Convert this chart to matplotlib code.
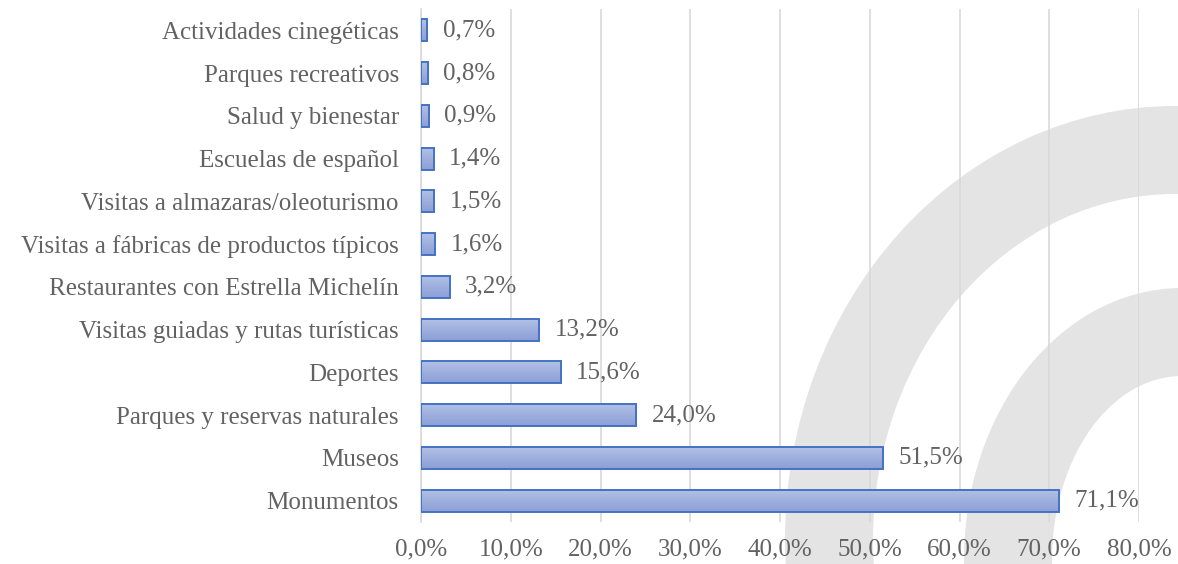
import numpy as np
import matplotlib
matplotlib.use("Agg")
import matplotlib.pyplot as plt
from matplotlib.patches import Annulus
from matplotlib.transforms import IdentityTransform
from matplotlib.colors import LinearSegmentedColormap

categories = [
    "Monumentos",
    "Museos",
    "Parques y reservas naturales",
    "Deportes",
    "Visitas guiadas y rutas turísticas",
    "Restaurantes con Estrella Michelín",
    "Visitas a fábricas de productos típicos",
    "Visitas a almazaras/oleoturismo",
    "Escuelas de español",
    "Salud y bienestar",
    "Parques recreativos",
    "Actividades cinegéticas",
]
values = [71.1, 51.5, 24.0, 15.6, 13.2, 3.2, 1.6, 1.5, 1.4, 0.9, 0.8, 0.7]
xticks = [0, 10, 20, 30, 40, 50, 60, 70, 80]

txt = "#626262"
grid_c = "#d9d9d9"
edge_c = "#4472c4"
fs = 18

plt.rcParams["font.family"] = ["Liberation Serif", "DejaVu Serif"]

fig = plt.figure(figsize=(11.78, 5.64), dpi=100)
W, H = 1178, 564

# background watermark (grey arcs), drawn below the axes
wm = "#e4e4e4"
big = Annulus((1175, H - 540), r=(390, 434), width=88, transform=IdentityTransform(),
              facecolor=wm, edgecolor="none", zorder=-5)
small = Annulus((1182, H - 560), r=(218, 272), width=88, transform=IdentityTransform(),
                facecolor=wm, edgecolor="none", zorder=-5)
fig.patches.extend([big, small])

ax = fig.add_axes([421 / W, (H - 522) / H, (1139 - 421) / W, (522 - 9) / H])
ax.patch.set_alpha(0)
ax.set_zorder(1)

y = np.arange(len(categories))
bh = 0.52
bars = ax.barh(y, values, height=bh, facecolor="none", edgecolor=edge_c, linewidth=1.4, zorder=3)

cmap = LinearSegmentedColormap.from_list("g", ["#8c9fd6", "#b2c1e6"])
grad = np.linspace(0, 1, 64).reshape(-1, 1)
for b in bars:
    x0, y0 = b.get_x(), b.get_y()
    im = ax.imshow(grad, cmap=cmap, aspect="auto", origin="lower",
                   extent=(x0, x0 + b.get_width(), y0, y0 + b.get_height()), zorder=2)
    im.set_clip_path(b)

for yi, v in zip(y, values):
    ax.annotate(f"{v:.1f}".replace(".", ",") + "%", (v, yi), xytext=(11, 0),
                textcoords="offset points", va="center", ha="left",
                fontsize=fs, color=txt, zorder=4)

ax.set_xlim(0, 80)
ax.set_ylim(-0.5, len(categories) - 0.5)
ax.set_xticks(xticks)
ax.set_xticklabels([f"{t:.1f}".replace(".", ",") + "%" for t in xticks])
ax.set_yticks(y)
ax.set_yticklabels(categories)
ax.tick_params(axis="both", length=0, labelsize=fs, labelcolor=txt)
ax.tick_params(axis="x", pad=12)
ax.tick_params(axis="y", pad=16)
ax.grid(axis="x", color=grid_c, linewidth=1.2, zorder=1)
ax.set_axisbelow(True)
for s in ["top", "right", "bottom"]:
    ax.spines[s].set_visible(False)
ax.spines["left"].set_color(grid_c)
ax.spines["left"].set_linewidth(1.2)

fig.savefig("out.png", dpi=100, facecolor="white")
